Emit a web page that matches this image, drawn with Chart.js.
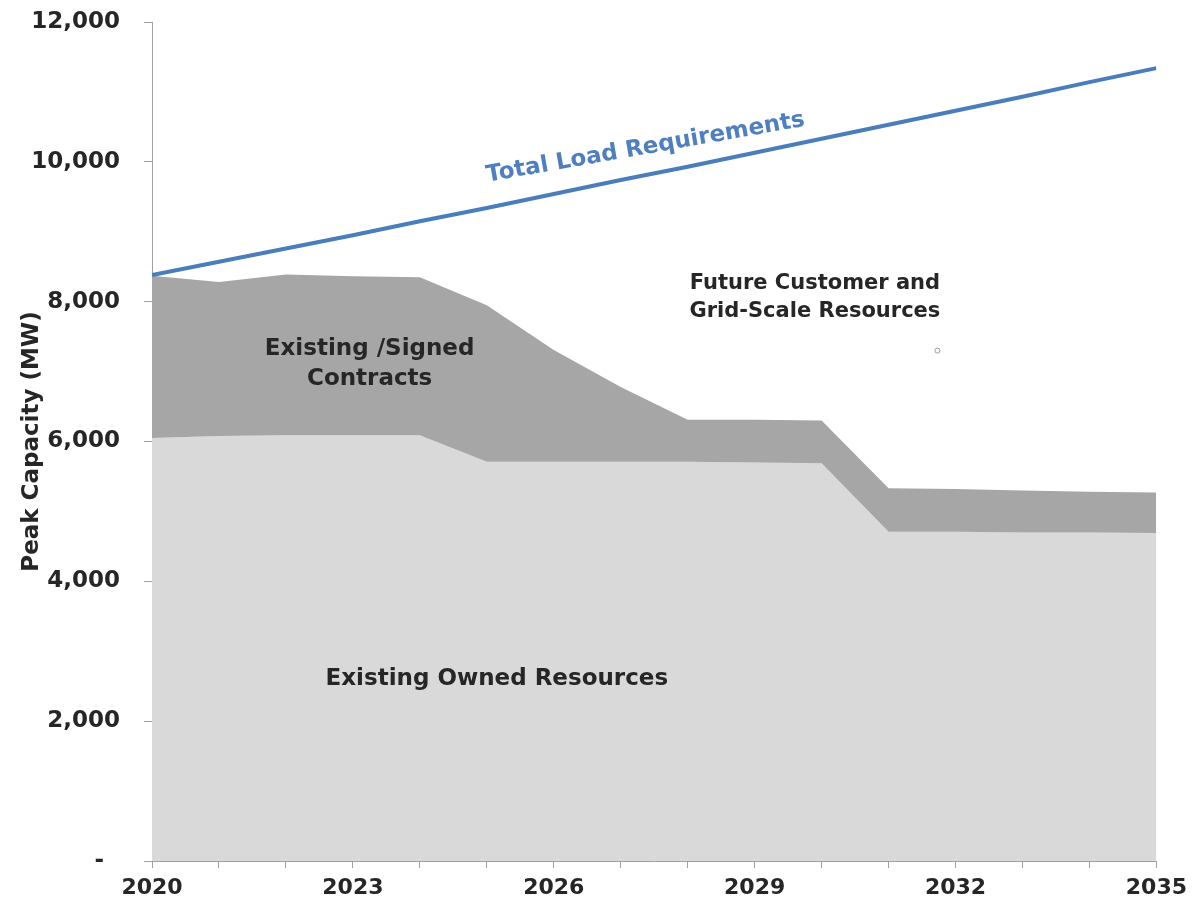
<!DOCTYPE html>
<html>
<head>
<meta charset="utf-8">
<title>Peak Capacity</title>
<script src="https://cdn.jsdelivr.net/npm/chart.js@4"></script>
<style>
  html, body { margin: 0; padding: 0; background: #fff; }
  #wrap { width: 1194px; height: 907px; }
</style>
</head>
<body>
<div id="wrap"><canvas id="capacityChart" width="1194" height="907"></canvas></div>
<script>
// years 2020 - 2035
const years = [2020, 2021, 2022, 2023, 2024, 2025, 2026, 2027, 2028, 2029, 2030, 2031, 2032, 2033, 2034, 2035];

// MW
const ownedResources = [6050, 6080, 6090, 6090, 6090, 5710, 5710, 5710, 5710, 5700, 5690, 4710, 4710, 4700, 4700, 4690];
const ownedPlusContracts = [8370, 8280, 8390, 8365, 8350, 7950, 7310, 6780, 6310, 6310, 6300, 5330, 5320, 5300, 5280, 5270];
const totalLoad = [8380, 8570, 8760, 8950, 9150, 9340, 9540, 9740, 9930, 10130, 10330, 10530, 10730, 10930, 11140, 11340];

const yTicks = [0, 2000, 4000, 6000, 8000, 10000, 12000];
const xLabelYears = [2020, 2023, 2026, 2029, 2032, 2035];

const FONT = "'DejaVu Sans', Verdana, sans-serif";
const TEXT = "#262626";

function pts(vals) {
  return years.map((y, i) => ({ x: y, y: vals[i] }));
}

// text labels placed in data space
const areaLabels = [
  { lines: ["Existing Owned Resources"], x: 2025.15, y: 2600, color: TEXT, size: 23 },
  { lines: ["Existing /Signed", "Contracts"], x: 2023.25, y: 7110, color: TEXT, size: 23 },
  { lines: ["Future Customer and", "Grid-Scale Resources"], x: 2029.9, y: 8060, color: TEXT, size: 21 },
  { lines: ["Total Load Requirements"], x: 2027.37, y: 10200, color: "#4f7fbf", size: 23, rotate: -10 }
];

const labelPlugin = {
  id: "areaLabels",
  afterDatasetsDraw(chart) {
    const { ctx, scales: { x, y } } = chart;
    ctx.save();
    areaLabels.forEach(l => {
      const px = x.getPixelForValue(l.x);
      const py = y.getPixelForValue(l.y);
      const lh = l.size * 1.3;
      ctx.save();
      ctx.translate(px, py);
      if (l.rotate) ctx.rotate(l.rotate * Math.PI / 180);
      ctx.font = "bold " + l.size + "px " + FONT;
      ctx.fillStyle = l.color;
      ctx.textAlign = "center";
      ctx.textBaseline = "middle";
      const start = -(l.lines.length - 1) * lh / 2;
      l.lines.forEach((t, i) => ctx.fillText(t, 0, start + i * lh));
      ctx.restore();
    });
    // small ring near the upper right area
    ctx.beginPath();
    ctx.arc(x.getPixelForValue(2031.73), y.getPixelForValue(7300), 2.5, 0, Math.PI * 2);
    ctx.strokeStyle = "#9a9a9a";
    ctx.lineWidth = 1;
    ctx.stroke();
    ctx.restore();
  }
};

new Chart(document.getElementById("capacityChart"), {
  type: "line",
  data: {
    datasets: [
      {
        label: "Existing Owned Resources",
        data: pts(ownedResources),
        backgroundColor: "#d9d9d9",
        borderWidth: 0,
        pointRadius: 0,
        fill: "origin",
        order: 2
      },
      {
        label: "Existing /Signed Contracts",
        data: pts(ownedPlusContracts),
        backgroundColor: "#a6a6a6",
        borderWidth: 0,
        pointRadius: 0,
        fill: "-1",
        order: 1
      },
      {
        label: "Total Load Requirements",
        data: pts(totalLoad),
        borderColor: "#4a7ebb",
        borderWidth: 4,
        pointRadius: 0,
        fill: false,
        order: 0
      }
    ]
  },
  options: {
    responsive: false,
    animation: false,
    events: [],
    layout: { padding: { top: 22, right: 37, left: 0, bottom: 0 } },
    elements: { line: { tension: 0 } },
    plugins: {
      legend: { display: false },
      tooltip: { enabled: false }
    },
    scales: {
      x: {
        type: "linear",
        min: 2020,
        max: 2035,
        afterBuildTicks: s => { s.ticks = years.map(v => ({ value: v })); },
        afterFit: s => { s.height = 46; },
        ticks: {
          autoSkip: false,
          maxRotation: 0,
          padding: 7,
          color: TEXT,
          font: { family: FONT, size: 22, weight: "bold" },
          callback: v => xLabelYears.includes(v) ? String(v) : ""
        },
        grid: { drawOnChartArea: false, tickLength: 7, color: "#a0a0a0" },
        border: { color: "#a0a0a0", width: 1 }
      },
      y: {
        min: 0,
        max: 12000,
        afterBuildTicks: s => { s.ticks = yTicks.map(v => ({ value: v })); },
        // label gap is wide, so keep it from pushing the plot down
        afterFit: s => { s.width = 152; s.paddingTop = 14; s.paddingBottom = 14; },
        ticks: {
          padding: 24,
          color: TEXT,
          font: { family: FONT, size: 23, weight: "bold" },
          callback: v => v === 0 ? "-  " : v.toLocaleString("en-US")
        },
        grid: { drawOnChartArea: false, tickLength: 8, color: "#a0a0a0" },
        border: { color: "#a0a0a0", width: 1 },
        title: {
          display: true,
          text: "Peak Capacity (MW)",
          color: TEXT,
          font: { family: FONT, size: 23, weight: "bold" },
          padding: { top: 18, bottom: 0 }
        }
      }
    }
  },
  plugins: [labelPlugin]
});
</script>
</body>
</html>
